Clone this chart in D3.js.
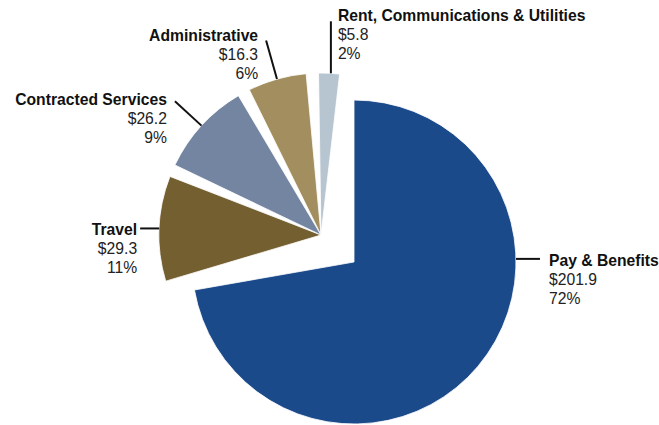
<!DOCTYPE html>
<html>
<head>
<meta charset="utf-8">
<script src="https://cdn.jsdelivr.net/npm/d3@7"></script>
<style>
  html, body { margin: 0; padding: 0; background: #fff; }
  svg { display: block; }
  text { font-family: "Liberation Sans", Arial, Helvetica, sans-serif; font-size: 15.7px; }
</style>
</head>
<body>
<svg id="chart" width="659" height="425"></svg>
<script>
// Spending by category ($ millions)
const categories = ["Pay & Benefits", "Travel", "Contracted Services", "Administrative", "Rent, Communications & Utilities"];
const amounts = [201.9, 29.3, 26.2, 16.3, 5.8];
const percentLabels = ["72%", "11%", "9%", "6%", "2%"];
const colors = ["#1b4a8b", "#745f30", "#7485a1", "#a38e5f", "#b7c5d0"];

// Layout
const deg = Math.PI / 180;
const radius = 162;
const mainCenter = [354, 262];      // the large slice stays in place
const groupCenter = [321, 235];     // the smaller slices are pulled out together
const spread = 4.4 * deg;           // extra angular gap between the smaller slices
const lineGap = 19;

// Per-slice leader and label placement
//  kind: "h" horizontal, "v" vertical, "r" radial; at: anchor angle (null = slice middle)
const leaders = [
  { kind: "h", at: 88.9 * deg, len: 24,  dx: 9,  dy: 7,   anchor: "start" },
  { kind: "h", at: null,       len: -19, dx: -3, dy: 6.5, anchor: "end" },
  { kind: "r", at: null,       len: 36,  dx: -8, dy: 3.5, anchor: "end" },
  { kind: "r", at: null,       len: 40,  dx: -8, dy: 0.5, anchor: "end" },
  { kind: "v", at: 3.5 * deg,  len: -52, dx: 7,  dy: 0,   anchor: "start" }
];

const svg = d3.select("#chart");
const pie = d3.pie().sort(null).value(d => d);
const arcs = pie(amounts).map((a, i) => {
  const shift = i === 0 ? 0 : (i - 2.5) * spread;
  return {
    index: i,
    startAngle: a.startAngle + shift,
    endAngle: a.endAngle + shift,
    center: i === 0 ? mainCenter : groupCenter
  };
});

const arc = d3.arc().innerRadius(0).outerRadius(radius);

svg.append("g").selectAll("path")
  .data(arcs)
  .join("path")
  .attr("transform", d => `translate(${d.center[0]},${d.center[1]})`)
  .attr("d", d => arc(d))
  .attr("fill", d => colors[d.index])
  .attr("stroke", "#ffffff")
  .attr("stroke-width", 0.8);

const polar = (c, a, r) => [c[0] + r * Math.sin(a), c[1] - r * Math.cos(a)];
const money = d3.format("$.1f");

const labelLayer = svg.append("g");
arcs.forEach(d => {
  const cfg = leaders[d.index];
  const a = cfg.at == null ? (d.startAngle + d.endAngle) / 2 : cfg.at;
  const p0 = polar(d.center, a, radius);
  let p1;
  if (cfg.kind === "h") p1 = [p0[0] + cfg.len, p0[1]];
  else if (cfg.kind === "v") p1 = [p0[0], p0[1] + cfg.len];
  else p1 = polar(d.center, a, radius + cfg.len);

  labelLayer.append("line")
    .attr("x1", p0[0]).attr("y1", p0[1])
    .attr("x2", p1[0]).attr("y2", p1[1])
    .attr("stroke", "#111")
    .attr("stroke-width", 2);

  const t = labelLayer.append("text")
    .attr("x", p1[0] + cfg.dx)
    .attr("y", p1[1] + cfg.dy)
    .attr("text-anchor", cfg.anchor);
  const lines = [categories[d.index], money(amounts[d.index]), percentLabels[d.index]];
  lines.forEach((s, k) => {
    t.append("tspan")
      .attr("x", p1[0] + cfg.dx)
      .attr("dy", k === 0 ? 0 : lineGap)
      .attr("font-weight", k === 0 ? "bold" : "normal")
      .attr("fill", k === 0 ? "#111" : "#222")
      .text(s);
  });
});
</script>
</body>
</html>
